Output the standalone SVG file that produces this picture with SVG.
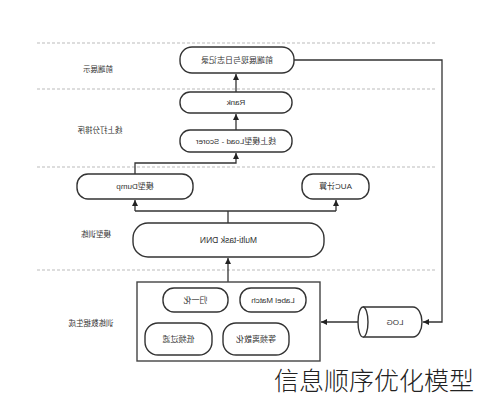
<svg xmlns="http://www.w3.org/2000/svg" width="478" height="400" viewBox="0 0 478 400">
<style>
.bg{fill:#fff}
.sep{stroke:#bbb;stroke-width:1;stroke-dasharray:3,2;fill:none}
.node{fill:#fff;stroke:#333;stroke-width:1.4}
.box{fill:#fff;stroke:#444;stroke-width:1.4}
.t{font-family:"Liberation Sans","Noto Sans CJK SC",sans-serif;font-size:8px;fill:#333;text-anchor:middle;dominant-baseline:central}
.lbl{font-family:"Liberation Sans","Noto Sans CJK SC",sans-serif;font-size:7.5px;fill:#333;text-anchor:middle;dominant-baseline:central}
.c{stroke:#333;stroke-width:1.3;fill:none}
.wm{font-family:"Noto Sans CJK SC",sans-serif;font-size:25px;font-weight:300;fill:#222}
</style>
<defs>
<marker id="ah" viewBox="0 0 10 10" refX="10" refY="5" markerWidth="6" markerHeight="6" orient="auto" markerUnits="userSpaceOnUse">
<path d="M0,0 L10,5 L0,10 z" fill="#222"/>
</marker>
</defs>
<rect class="bg" width="478" height="400"/>
<g id="separators">
<line class="sep" x1="37" y1="43" x2="435" y2="43"/>
<line class="sep" x1="37" y1="89" x2="435" y2="89"/>
<line class="sep" x1="37" y1="167" x2="435" y2="167"/>
<line class="sep" x1="37" y1="270" x2="435" y2="270"/>
</g>
<g id="layer-labels">
<text class="lbl" transform="translate(98,69) scale(-1,1)">前端展示</text>
<text class="lbl" transform="translate(100,130) scale(-1,1)">线上打分排序</text>
<text class="lbl" transform="translate(96,234) scale(-1,1)">模型训练</text>
<text class="lbl" transform="translate(91,323) scale(-1,1)">训练数据生成</text>
</g>
<g id="connectors">
<path class="c" d="M294,60 H442 V322 H423" marker-end="url(#ah)"/>
<path class="c" d="M358,322 H321" marker-end="url(#ah)"/>
<path class="c" d="M228,282 V258" marker-end="url(#ah)"/>
<path class="c" d="M228,223 V211"/>
<path class="c" d="M135,211 H336"/>
<path class="c" d="M135,211 V200" marker-end="url(#ah)"/>
<path class="c" d="M336,211 V200" marker-end="url(#ah)"/>
<path class="c" d="M135,174 V163 H236 V153" marker-end="url(#ah)"/>
<path class="c" d="M236,130 V114" marker-end="url(#ah)"/>
<path class="c" d="M236,92 V74" marker-end="url(#ah)"/>
</g>
<g id="n-frontend">
<rect class="node" x="180" y="47" width="114" height="26" rx="12"/>
<text class="t" transform="translate(237,60) scale(-1,1)">前端展现与日志记录</text>
</g>
<g id="n-rank">
<rect class="node" x="180" y="92" width="112" height="21" rx="10"/>
<text class="t" transform="translate(236,102.5) scale(-1,1)">Rank</text>
</g>
<g id="n-scorer">
<rect class="node" x="180" y="130" width="112" height="22" rx="10"/>
<text class="t" transform="translate(236,141) scale(-1,1)">线上模型Load - Scorer</text>
</g>
<g id="n-dump">
<rect class="node" x="77" y="174" width="116" height="25" rx="11"/>
<text class="t" transform="translate(135,186.5) scale(-1,1)">模型Dump</text>
</g>
<g id="n-auc">
<rect class="node" x="302" y="174" width="67" height="25" rx="11"/>
<text class="t" transform="translate(335.5,186.5) scale(-1,1)">AUC计算</text>
</g>
<g id="n-dnn">
<rect class="node" x="133" y="223" width="191" height="34" rx="15"/>
<text class="t" style="font-size:8.5px" transform="translate(228.5,240) scale(-1,1)">Multi-task DNN</text>
</g>
<g id="n-datagen">
<rect class="box" x="137" y="282" width="183" height="79"/>
</g>
<g id="n-norm">
<rect class="node" x="163" y="288" width="65" height="24" rx="11"/>
<text class="t" transform="translate(195.5,300) scale(-1,1)">归一化</text>
</g>
<g id="n-label">
<rect class="node" x="240" y="288" width="66" height="24" rx="11"/>
<text class="t" transform="translate(273,300) scale(-1,1)">Label Match</text>
</g>
<g id="n-lowfreq">
<rect class="node" x="145" y="323" width="67" height="32" rx="13"/>
<text class="t" transform="translate(178.5,339) scale(-1,1)">低频过滤</text>
</g>
<g id="n-discrete">
<rect class="node" x="223" y="323" width="66" height="32" rx="13"/>
<text class="t" transform="translate(256,339) scale(-1,1)">等频离散化</text>
</g>
<g id="n-log">
<path class="node" d="M363,307 H413 A9,15 0 0 1 413,337 H363 A5,15 0 0 1 363,307 Z"/>
<path class="node" d="M363,307 A5,15 0 0 1 363,337" fill="none"/>
<text class="t" transform="translate(395,322) scale(-1,1)">LOG</text>
</g>
<text class="wm" x="274" y="390">信息顺序优化模型</text>
</svg>
